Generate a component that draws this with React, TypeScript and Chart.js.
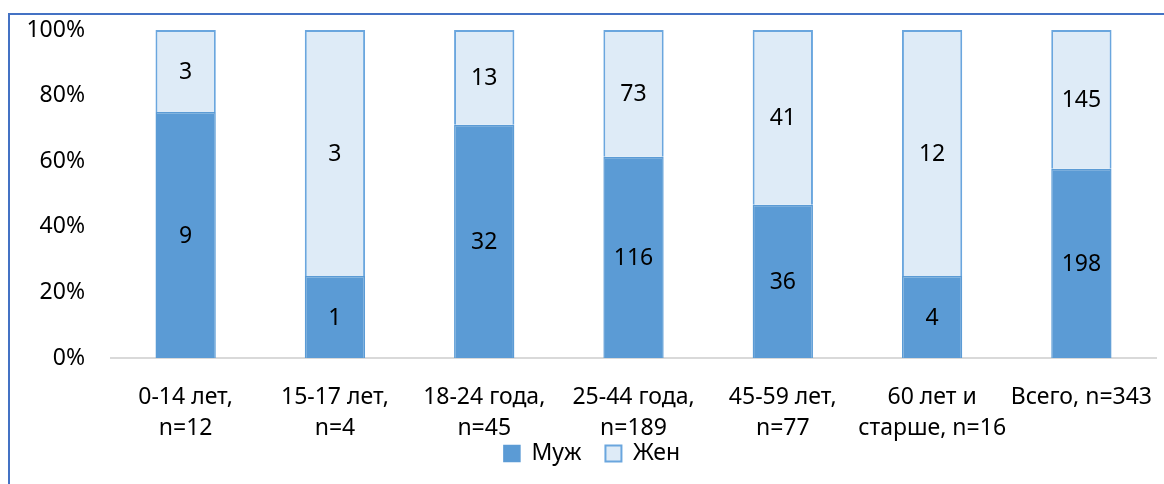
import React, { useEffect, useRef } from "react";
import { Chart, registerables } from "chart.js";

Chart.register(...registerables);

// Age groups (two-line axis labels)
const categories: string[][] = [
  ["0-14 лет,", "n=12"],
  ["15-17 лет,", "n=4"],
  ["18-24 года,", "n=45"],
  ["25-44 года,", "n=189"],
  ["45-59 лет,", "n=77"],
  ["60 лет и", "старше, n=16"],
  ["Всего, n=343"],
];

// Counts per group
const maleCounts = [9, 1, 32, 116, 36, 4, 198];
const femaleCounts = [3, 3, 13, 73, 41, 12, 145];

const seriesNames = ["Муж", "Жен"];
const yTickValues = [0, 20, 40, 60, 80, 100];

const FONT = "'Noto Sans', sans-serif";
const FONT_SIZE = 23;

const share = (part: number[], other: number[]) =>
  part.map((v, i) => (v / (v + other[i])) * 100);

// Writes the count in the middle of each stacked segment
const countLabels = {
  id: "countLabels",
  afterDatasetsDraw(chart: any) {
    const ctx = chart.ctx;
    ctx.save();
    ctx.font = `${FONT_SIZE}px ${FONT}`;
    ctx.fillStyle = "#000";
    ctx.textAlign = "center";
    ctx.textBaseline = "middle";
    chart.data.datasets.forEach((ds: any, di: number) => {
      const meta = chart.getDatasetMeta(di);
      meta.data.forEach((el: any, i: number) => {
        const { x, y, base } = el.getProps(["x", "y", "base"], true);
        ctx.fillText(String(ds.counts[i]), x, (y + base) / 2 + 1);
      });
    });
    ctx.restore();
  },
};

// Nudges the legend a little to the right of the canvas centre
const legendShift = {
  id: "legendShift",
  afterLayout(chart: any) {
    if (chart.legend) {
      chart.legend.left += 8;
      chart.legend.right += 8;
    }
  },
};

export default function App() {
  const ref = useRef<HTMLCanvasElement>(null);

  useEffect(() => {
    if (!ref.current) return;
    const chart = new Chart(ref.current, {
      type: "bar",
      data: {
        labels: categories,
        datasets: [
          {
            label: seriesNames[0],
            data: share(maleCounts, femaleCounts),
            counts: maleCounts,
            backgroundColor: "#5B9BD5",
            borderColor: "#5B9BD5",
            borderWidth: 1.5,
            barPercentage: 0.404,
            categoryPercentage: 1,
          } as any,
          {
            label: seriesNames[1],
            data: share(femaleCounts, maleCounts),
            counts: femaleCounts,
            backgroundColor: "#DEEBF7",
            borderColor: "#6AA6DE",
            borderWidth: 2,
            barPercentage: 0.404,
            categoryPercentage: 1,
          } as any,
        ],
      },
      options: {
        responsive: false,
        animation: false,
        layout: { padding: { top: 30, bottom: 9, left: 0, right: 0 } },
        plugins: {
          tooltip: { enabled: false },
          legend: {
            position: "bottom",
            labels: {
              font: { family: FONT, size: FONT_SIZE },
              color: "#000",
              boxWidth: 16,
              boxHeight: 16,
              padding: 24,
            },
          },
        },
        scales: {
          x: {
            stacked: true,
            grid: { display: false },
            border: { display: true, color: "#D9D9D9", width: 2 },
            ticks: {
              font: { family: FONT, size: FONT_SIZE, lineHeight: 1.35 },
              color: "#000",
              padding: 16,
              maxRotation: 0,
              autoSkip: false,
            },
            afterFit: (s: any) => {
              s.height = 60;
              // let the two-line labels run below the axis box
              s._computeLabelArea = () => undefined;
            },
          },
          y: {
            stacked: true,
            min: 0,
            max: 100,
            grid: { display: false },
            border: { display: false },
            afterBuildTicks: (s: any) => {
              s.ticks = yTickValues.map((v) => ({ value: v }));
            },
            ticks: {
              font: { family: FONT, size: FONT_SIZE },
              color: "#000",
              padding: 18,
              callback: (v: any) => `${v}%`,
            },
            afterFit: (s: any) => {
              s.width = 111;
              s.paddingTop = 0;
              s.paddingBottom = 0;
            },
          },
        },
      },
      plugins: [countLabels, legendShift],
    });
    return () => chart.destroy();
  }, []);

  return (
    <div
      style={{
        position: "fixed",
        left: 0,
        top: 0,
        width: 1164,
        height: 484,
        overflow: "hidden",
        background: "#fff",
      }}
    >
      <div
        style={{
          position: "absolute",
          left: 8,
          top: 13,
          width: 2000,
          height: 2000,
          borderLeft: "2px solid #4472C4",
          borderTop: "2px solid #4472C4",
        }}
      />
      <canvas
        ref={ref}
        width={1168}
        height={484}
        style={{ position: "absolute", left: 0, top: 0 }}
      />
    </div>
  );
}
